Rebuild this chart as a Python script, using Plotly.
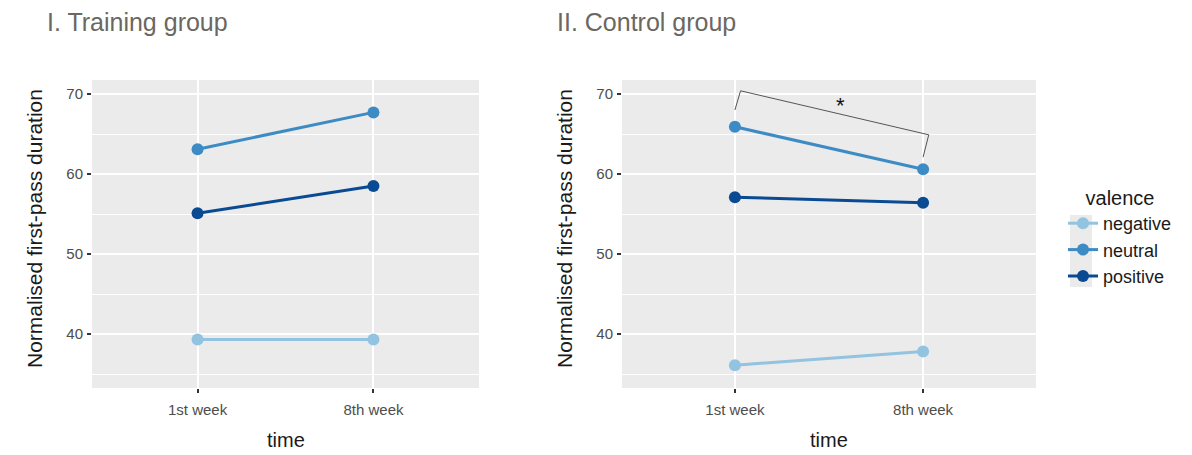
import plotly.graph_objects as go

times = ["1st week", "8th week"]
valences = ["negative", "neutral", "positive"]
colors = {"negative": "#92c3e0", "neutral": "#3d8bc4", "positive": "#0a4a92"}

training = {
    "negative": [39.3, 39.3],
    "neutral": [63.1, 67.7],
    "positive": [55.1, 58.5],
}
control = {
    "negative": [36.1, 37.8],
    "neutral": [65.9, 60.6],
    "positive": [57.1, 56.4],
}
y_ticks = [40, 50, 60, 70]
y_minor = [35, 45, 55, 65]
panel_titles = ["I. Training group", "II. Control group"]

W, H = 1192, 455
fig = go.Figure()
xi = list(range(len(times)))

for v in valences:
    fig.add_trace(go.Scatter(x=xi, y=training[v], mode="lines+markers", name=v,
                             line=dict(color=colors[v], width=3),
                             marker=dict(color=colors[v], size=12),
                             xaxis="x", yaxis="y", showlegend=True, legendgroup=v))
for v in valences:
    fig.add_trace(go.Scatter(x=xi, y=control[v], mode="lines+markers", name=v,
                             line=dict(color=colors[v], width=3),
                             marker=dict(color=colors[v], size=12),
                             xaxis="x2", yaxis="y2", showlegend=False, legendgroup=v))

# significance bracket (control group, neutral)
fig.add_trace(go.Scatter(x=[0, 0.03, 1.03, 1.0], y=[68.0, 70.4, 64.9, 62.1],
                         mode="lines", line=dict(color="#555555", width=1),
                         xaxis="x2", yaxis="y2", showlegend=False, hoverinfo="skip"))

def px(x):
    return x / W

def py(y):
    return 1 - y / H

tickfont = dict(family="Liberation Sans, Arial", size=15, color="#4d4d4d")
xaxis_common = dict(range=[-0.6, 1.6], tickvals=xi, ticktext=times, showgrid=True,
                    gridcolor="white", gridwidth=1.5, zeroline=False, ticks="outside",
                    ticklen=4, tickwidth=1.5, tickcolor="#333333", ticklabelstandoff=4,
                    tickfont=tickfont, showline=False)
yaxis_common = dict(range=[33.25, 71.75], tickvals=y_ticks, showgrid=True, gridcolor="white",
                    gridwidth=1.5, zeroline=False, ticks="outside", ticklen=4, tickwidth=1.5,
                    tickcolor="#333333", ticklabelstandoff=1,
                    tickfont=tickfont,
                    minor=dict(tickvals=y_minor, showgrid=True, gridcolor="white", gridwidth=0.8,
                               ticks=""),
                    domain=[py(388), py(80)])

fig.update_layout(
    width=W, height=H, margin=dict(l=0, r=0, t=0, b=0),
    paper_bgcolor="white", plot_bgcolor="#ebebeb",
    xaxis=dict(domain=[px(92), px(479)], anchor="y", **xaxis_common),
    yaxis=dict(anchor="x", **yaxis_common),
    xaxis2=dict(domain=[px(622), px(1036)], anchor="y2", **xaxis_common),
    yaxis2=dict(anchor="x2", **yaxis_common),
    legend=dict(x=px(1063), y=py(179), xanchor="left", yanchor="top",
                bgcolor="rgba(0,0,0,0)",
                font=dict(family="Liberation Sans, Arial", size=18, color="#1a1a1a"),
                title=dict(text="valence", side="top center",
                           font=dict(family="Liberation Sans, Arial", size=20, color="#1a1a1a")),
                tracegroupgap=0, itemwidth=30),
    showlegend=True,
)

# legend key background
fig.add_shape(type="rect", xref="paper", yref="paper",
              x0=px(1070), x1=px(1092), y0=py(287), y1=py(215),
              fillcolor="#ebebeb", line=dict(width=0), layer="below")

ann_font = dict(family="Liberation Sans, Arial", size=25, color="#6b6761")
fig.add_annotation(text=panel_titles[0], x=px(45), y=py(22), xref="paper", yref="paper",
                   xanchor="left", yanchor="middle", showarrow=False, font=ann_font)
fig.add_annotation(text=panel_titles[1], x=px(555), y=py(22), xref="paper", yref="paper",
                   xanchor="left", yanchor="middle", showarrow=False, font=ann_font)

tfont = dict(family="Liberation Sans, Arial", size=21, color="#1a1a1a")
for xc in [34, 564]:
    fig.add_annotation(text="Normalised first-pass duration", x=px(xc), y=py(229),
                       xref="paper", yref="paper", textangle=-90, showarrow=False,
                       xanchor="center", yanchor="middle", font=tfont)
for xc in [286, 829]:
    fig.add_annotation(text="time", x=px(xc), y=py(440), xref="paper", yref="paper",
                       showarrow=False, xanchor="center", yanchor="middle",
                       font=dict(family="Liberation Sans, Arial", size=20, color="#1a1a1a"))

fig.add_annotation(text="*", x=0.56, y=68.6, xref="x2", yref="y2", showarrow=False,
                   font=dict(family="Liberation Sans, Arial", size=22, color="#111111"))

fig.write_html("out.html")
